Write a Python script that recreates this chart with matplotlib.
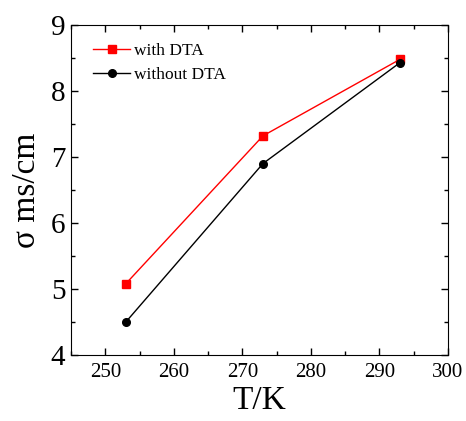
import matplotlib
matplotlib.use('Agg')
import matplotlib.pyplot as plt
from matplotlib.ticker import MultipleLocator

# conductivity vs temperature
temps = [253, 273, 293]
with_dta = [5.08, 7.32, 8.48]
without_dta = [4.50, 6.90, 8.43]

plt.rcParams['font.family'] = ['Liberation Serif', 'DejaVu Serif']
plt.rcParams['mathtext.fontset'] = 'stix'

fig = plt.figure(figsize=(4.66, 4.21), dpi=100)
ax = fig.add_axes([71 / 466, 1 - 355 / 421, 377 / 466, 330 / 421])

ax.plot(temps, with_dta, color='red', marker='s', markersize=5.5, lw=1, label='with DTA')
ax.plot(temps, without_dta, color='black', marker='o', markersize=5.5, lw=1, label='without DTA')

ax.set_xlim(245, 300)
ax.set_ylim(4, 9)
ax.xaxis.set_major_locator(MultipleLocator(10))
ax.xaxis.set_minor_locator(MultipleLocator(5))
ax.yaxis.set_major_locator(MultipleLocator(1))
ax.yaxis.set_minor_locator(MultipleLocator(0.5))
ax.tick_params(which='both', direction='in', top=True, right=True, width=1)
ax.tick_params(which='major', length=5)
ax.tick_params(which='minor', length=3)
ax.tick_params(axis='x', labelsize=15, pad=6)
ax.tick_params(axis='y', labelsize=21, pad=4)

ax.set_xlabel('T/K', fontsize=24, labelpad=2)
ax.set_ylabel('σ ms/cm', fontsize=24, labelpad=6)

ax.legend(loc='upper left', frameon=False, fontsize=12.5, handlelength=2.1,
          handletextpad=0.25, labelspacing=0.5, borderaxespad=0.3,
          bbox_to_anchor=(0.027, 0.984))

fig.savefig('out.png', dpi=100)
